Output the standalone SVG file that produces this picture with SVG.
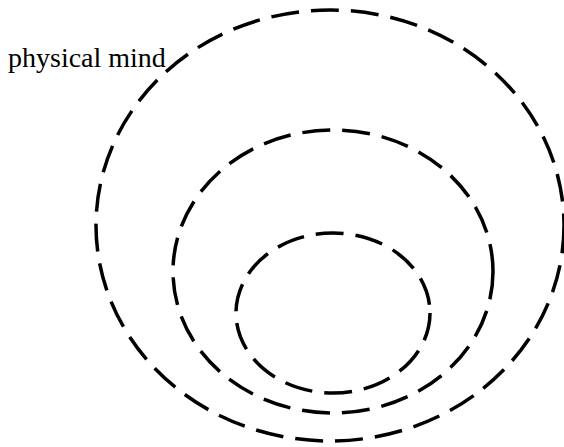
<svg xmlns="http://www.w3.org/2000/svg" width="564" height="447" viewBox="0 0 564 447">
<style>
.ring{fill:none;stroke:#000;stroke-width:3.5;stroke-dasharray:28 12}
.lbl{font-family:"Liberation Serif","Times New Roman",serif;font-size:28px;fill:#000}
</style>
<rect width="564" height="447" fill="#fff"/>
<g id="outer"><ellipse class="ring" cx="330" cy="225.5" rx="234" ry="215.5"/></g>
<g id="middle"><ellipse class="ring" cx="333" cy="271.5" rx="160" ry="141.5"/></g>
<g id="inner"><ellipse class="ring" cx="333" cy="313" rx="97" ry="80"/></g>
<g id="label"><text class="lbl" x="8" y="67">physical mind</text></g>
</svg>
